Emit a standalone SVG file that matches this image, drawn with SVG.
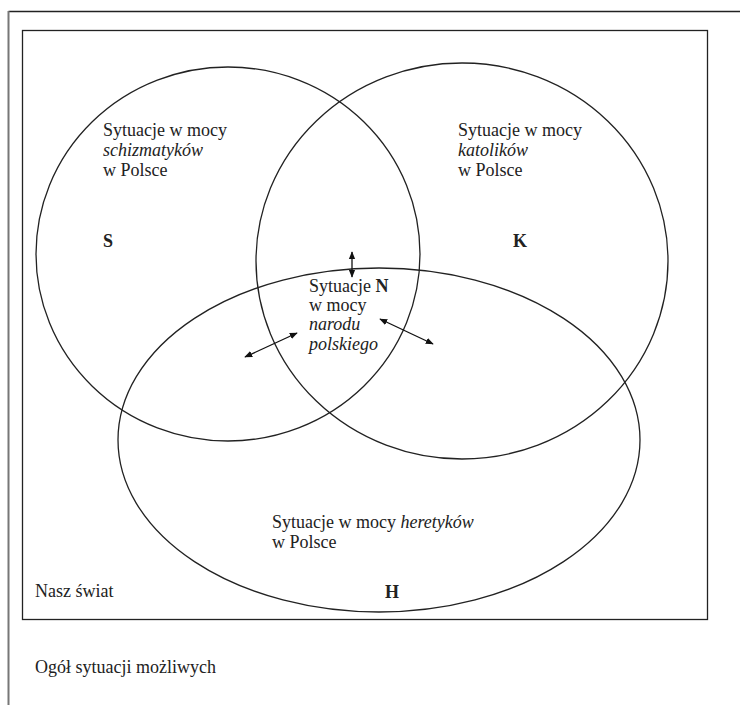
<svg xmlns="http://www.w3.org/2000/svg" width="740" height="705" viewBox="0 0 740 705">
<defs>
<style>
.ln{fill:none;stroke:#222;stroke-width:1.3}
.t{font-family:"Liberation Serif","Times New Roman",serif;font-size:18px;fill:#222}
.i{font-style:italic}
.b{font-weight:bold}
.ar{stroke:#111;stroke-width:1.3;fill:none;marker-start:url(#ah);marker-end:url(#ah)}
</style>
<marker id="ah" viewBox="0 0 10 10" refX="9" refY="5" markerWidth="8" markerHeight="8" orient="auto-start-reverse" markerUnits="userSpaceOnUse">
<path d="M0,1 L10,5 L0,9 Z" fill="#111"/>
</marker>
</defs>
<rect width="740" height="705" fill="#fff"/>
<g id="outer">
<line x1="8.5" y1="11.5" x2="740" y2="11.5" stroke="#222" stroke-width="1.3"/>
<line x1="8.5" y1="11" x2="8.5" y2="705" stroke="#777" stroke-width="2"/>
<text class="t" x="35" y="673">Ogół sytuacji możliwych</text>
</g>
<g id="world">
<rect x="22.5" y="30.5" width="685" height="589" class="ln"/>
<text class="t" x="35" y="597">Nasz świat</text>
</g>
<g id="S">
<ellipse cx="228" cy="254" rx="192" ry="187" class="ln"/>
<text class="t" x="103" y="136">Sytuacje w mocy</text>
<text class="t i" x="103" y="156">schizmatyków</text>
<text class="t" x="103" y="176">w Polsce</text>
<text class="t b" x="103" y="247">S</text>
</g>
<g id="K">
<ellipse cx="462" cy="261" rx="206" ry="198" class="ln"/>
<text class="t" x="458" y="136">Sytuacje w mocy</text>
<text class="t i" x="458" y="156">katolików</text>
<text class="t" x="458" y="176">w Polsce</text>
<text class="t b" x="513" y="247">K</text>
</g>
<g id="H">
<ellipse cx="379" cy="440" rx="261" ry="172" class="ln"/>
<text class="t" x="272" y="528">Sytuacje w mocy <tspan class="i">heretyków</tspan></text>
<text class="t" x="272" y="548">w Polsce</text>
<text class="t b" x="385" y="598">H</text>
</g>
<g id="N">
<text class="t" x="309" y="292">Sytuacje <tspan class="b">N</tspan></text>
<text class="t" x="309" y="311">w mocy</text>
<text class="t i" x="309" y="330">narodu</text>
<text class="t i" x="309" y="350">polskiego</text>
</g>
<g id="connectors">
<line class="ar" x1="352" y1="252" x2="352" y2="277"/>
<line class="ar" x1="245" y1="357" x2="297" y2="333"/>
<line class="ar" x1="380" y1="319" x2="433" y2="344"/>
</g>
</svg>
